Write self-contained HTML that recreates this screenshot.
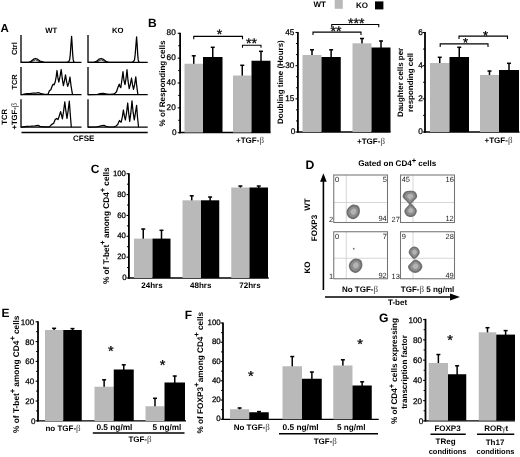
<!DOCTYPE html>
<html lang="en"><head><meta charset="utf-8"><title>Figure</title>
<style>
html,body{margin:0;padding:0;background:#fff;}
svg{display:block;font-family:"Liberation Sans",sans-serif;text-rendering:geometricPrecision;}
</style></head>
<body>
<svg width="520" height="457" viewBox="0 0 520 457">
<rect width="520" height="457" fill="#fff"/>
<text x="0.4" y="32.1" font-size="11.5" font-weight="bold" text-anchor="start" fill="#000">A</text>
<text x="51.2" y="32.7" font-size="7.7" font-weight="bold" text-anchor="middle" fill="#000">WT</text>
<text x="117.8" y="32.7" font-size="7.7" font-weight="bold" text-anchor="middle" fill="#000">KO</text>
<text x="14.9" y="48.6" font-size="7.5" font-weight="bold" text-anchor="middle" fill="#000" transform="rotate(-90 14.9 48.6)" dominant-baseline="middle">Ctrl</text>
<text x="15.2" y="82.0" font-size="7.4" font-weight="bold" text-anchor="middle" fill="#000" transform="rotate(-90 15.2 82.0)" dominant-baseline="middle">TCR</text>
<text x="5.4" y="116.8" font-size="7.7" font-weight="bold" text-anchor="middle" fill="#000" transform="rotate(-90 5.4 116.8)" dominant-baseline="middle">TCR</text>
<text x="14.6" y="116.2" font-size="7.7" font-weight="bold" text-anchor="middle" fill="#000" transform="rotate(-90 14.6 116.2)" dominant-baseline="middle">+TGF-<tspan font-family="Liberation Serif, serif" font-weight="normal" font-size="1.12em" fill="#444">β</tspan></text>
<text x="83.7" y="141.4" font-size="8" font-weight="bold" text-anchor="middle" fill="#000">CFSE</text>
<line x1="21.5" y1="132.5" x2="147.7" y2="132.5" stroke="#000" stroke-width="1.3"/>
<polyline points="21,35 21,62.4 81.5,62.4" fill="none" stroke="#000" stroke-width="1.3"/>
<polyline points="21.0,62.4 29.0,62.4 31.0,61.2 33.5,59.2 35.4,58.5 37.5,59.2 40.0,61.0 44.6,62.4 66.8,62.4 68.6,61.7 69.6,59.9 70.3,54.4 70.9,45.4 71.6,36.4 72.2,45.4 72.7,54.4 73.2,59.9 73.8,61.8 74.5,62.4" fill="none" stroke="#000" stroke-width="1.25" stroke-linejoin="round"/>
<polyline points="29.5,62.4 32.0,61.4 35.4,59.8 39.0,61.4 43.0,62.4" fill="none" stroke="#000" stroke-width="0.8" stroke-linejoin="round"/>
<polyline points="88,35 88,62.4 147.7,62.4" fill="none" stroke="#000" stroke-width="1.3"/>
<polyline points="88.0,62.4 93.8,62.4 96.5,61.2 99.0,59.2 101.2,58.5 103.5,59.4 106.0,61.2 108.5,62.4 131.6,62.4 133.4,61.7 134.5,59.9 135.2,54.4 135.9,45.4 136.6,36.9 137.2,45.4 137.7,54.4 138.2,59.9 138.8,61.8 139.5,62.4" fill="none" stroke="#000" stroke-width="1.25" stroke-linejoin="round"/>
<polyline points="95.0,62.4 98.0,61.4 101.2,59.8 104.5,61.4 107.5,62.4" fill="none" stroke="#000" stroke-width="0.8" stroke-linejoin="round"/>
<polyline points="21,67 21,94.7 81.5,94.7" fill="none" stroke="#000" stroke-width="1.3"/>
<polyline points="21.0,94.7 23.0,94.4 27.0,93.5 30.0,93.7 33.0,93.0 36.0,93.2 39.0,92.7 41.0,93.7 44.6,94.4 47.9,94.4 49.4,90.7 50.8,89.7 52.3,85.7 53.3,84.2 54.1,84.9 55.2,82.0 56.2,76.7 57.0,70.5 57.9,77.7 58.8,82.0 60.0,76.7 61.2,69.5 62.3,78.7 63.4,85.6 64.5,80.7 65.5,74.8 66.6,81.7 67.7,86.4 68.9,82.7 70.0,77.0 71.0,85.6 72.5,94.7" fill="none" stroke="#000" stroke-width="1.25" stroke-linejoin="round"/>
<polyline points="88,67 88,94.7 147.7,94.7" fill="none" stroke="#000" stroke-width="1.3"/>
<polyline points="88.0,94.7 97.0,94.5 100.0,93.7 103.0,93.3 106.0,93.9 109.0,94.4 113.0,94.2 115.0,93.2 116.5,91.7 117.8,87.7 119.2,84.2 120.0,86.7 120.8,87.7 121.8,80.7 123.0,71.7 124.0,80.7 125.0,84.7 126.0,78.7 127.0,69.7 128.0,80.7 129.2,88.7 130.3,84.7 131.5,78.0 132.5,84.7 133.5,89.4 134.6,84.7 135.8,76.9 136.7,85.7 137.9,94.7" fill="none" stroke="#000" stroke-width="1.25" stroke-linejoin="round"/>
<polyline points="21,99.2 21,127.2 81.5,127.2" fill="none" stroke="#000" stroke-width="1.3"/>
<polyline points="21.0,127.2 23.0,126.9 27.0,126.4 31.0,126.2 35.0,125.8 38.0,125.4 40.0,126.4 44.0,126.9 49.4,126.9 51.5,124.6 53.7,123.2 55.2,119.6 56.6,118.5 58.0,119.6 59.0,116.7 60.6,111.6 61.5,115.2 62.4,118.8 63.6,111.2 64.8,101.8 65.9,111.2 67.0,118.5 68.2,110.2 69.3,101.2 70.3,114.5 71.3,127.2" fill="none" stroke="#000" stroke-width="1.25" stroke-linejoin="round"/>
<polyline points="88,99.2 88,127.2 147.7,127.2" fill="none" stroke="#000" stroke-width="1.3"/>
<polyline points="88.0,127.2 96.0,127.0 99.0,126.4 102.0,125.6 104.0,125.4 106.0,126.4 109.0,127.0 114.0,126.9 116.0,126.0 117.7,124.6 118.6,122.2 119.5,120.5 120.3,121.7 121.2,122.2 122.3,117.2 123.4,110.0 124.4,116.2 125.4,120.0 126.5,113.2 127.7,103.0 128.7,113.2 129.7,121.5 130.8,113.2 132.0,100.8 133.1,112.2 134.3,120.0 135.4,113.2 136.6,105.4 137.5,117.2 138.6,127.2" fill="none" stroke="#000" stroke-width="1.25" stroke-linejoin="round"/>
<text x="147.9" y="27" font-size="12" font-weight="bold" text-anchor="start" fill="#000">B</text>
<line x1="180.1" y1="32.7" x2="180.1" y2="133.15" stroke="#000" stroke-width="1.8"/>
<line x1="179.2" y1="132.5" x2="270.5" y2="132.5" stroke="#000" stroke-width="1.3"/>
<line x1="177.7" y1="132.7" x2="180.1" y2="132.7" stroke="#000" stroke-width="1.1"/>
<text x="176.6" y="134.74999999999997" font-size="8.2" font-weight="normal" text-anchor="end" fill="#000" stroke="#000" stroke-width="0.25">0</text>
<line x1="177.7" y1="107.85" x2="180.1" y2="107.85" stroke="#000" stroke-width="1.1"/>
<text x="175.7" y="109.89999999999999" font-size="8.2" font-weight="normal" text-anchor="end" fill="#000" stroke="#000" stroke-width="0.25">20</text>
<line x1="177.7" y1="82.99999999999999" x2="180.1" y2="82.99999999999999" stroke="#000" stroke-width="1.1"/>
<text x="175.7" y="85.04999999999998" font-size="8.2" font-weight="normal" text-anchor="end" fill="#000" stroke="#000" stroke-width="0.25">40</text>
<line x1="177.7" y1="58.14999999999998" x2="180.1" y2="58.14999999999998" stroke="#000" stroke-width="1.1"/>
<text x="175.7" y="60.19999999999998" font-size="8.2" font-weight="normal" text-anchor="end" fill="#000" stroke="#000" stroke-width="0.25">60</text>
<line x1="177.7" y1="33.29999999999998" x2="180.1" y2="33.29999999999998" stroke="#000" stroke-width="1.1"/>
<text x="175.7" y="35.34999999999999" font-size="8.2" font-weight="normal" text-anchor="end" fill="#000" stroke="#000" stroke-width="0.25">80</text>
<line x1="178.2" y1="120.27499999999999" x2="180.1" y2="120.27499999999999" stroke="#000" stroke-width="1.0"/>
<line x1="178.2" y1="95.42499999999998" x2="180.1" y2="95.42499999999998" stroke="#000" stroke-width="1.0"/>
<line x1="178.2" y1="70.57499999999999" x2="180.1" y2="70.57499999999999" stroke="#000" stroke-width="1.0"/>
<line x1="178.2" y1="45.72499999999998" x2="180.1" y2="45.72499999999998" stroke="#000" stroke-width="1.0"/>
<line x1="193.75" y1="55.5" x2="193.75" y2="64.75" stroke="#000" stroke-width="1.5"/>
<line x1="191.75" y1="55.8" x2="195.75" y2="55.8" stroke="#000" stroke-width="1.5"/>
<rect x="184.50" y="63.75" width="18.50" height="68.75" fill="#b9b9b9"/>
<line x1="212.75" y1="47" x2="212.75" y2="58" stroke="#000" stroke-width="1.5"/>
<line x1="210.75" y1="47.3" x2="214.75" y2="47.3" stroke="#000" stroke-width="1.5"/>
<rect x="203.00" y="57.00" width="19.50" height="75.50" fill="#000"/>
<line x1="242.25" y1="65" x2="242.25" y2="76.5" stroke="#000" stroke-width="1.5"/>
<line x1="240.25" y1="65.3" x2="244.25" y2="65.3" stroke="#000" stroke-width="1.5"/>
<rect x="233.00" y="75.50" width="18.50" height="57.00" fill="#b9b9b9"/>
<line x1="261.0" y1="51" x2="261.0" y2="61.75" stroke="#000" stroke-width="1.5"/>
<line x1="259.0" y1="51.3" x2="263.0" y2="51.3" stroke="#000" stroke-width="1.5"/>
<rect x="251.50" y="60.75" width="19.00" height="71.75" fill="#000"/>
<polyline points="193.75,39.199999999999996 193.75,36.4 242.5,36.4 242.5,39.199999999999996" fill="none" stroke="#000" stroke-width="1.1"/>
<polyline points="242.5,47.8 242.5,45.3 261,45.3 261,47.8" fill="none" stroke="#000" stroke-width="1.1"/>
<text x="219.6" y="39.0" font-size="14" font-weight="normal" text-anchor="middle" fill="#000" stroke="#000" stroke-width="0.3">*</text>
<text x="251.5" y="47.5" font-size="14" font-weight="normal" text-anchor="middle" fill="#000" stroke="#000" stroke-width="0.3">**</text>
<text x="164.6" y="83.55" font-size="8" font-weight="bold" text-anchor="middle" textLength="85.9" lengthAdjust="spacingAndGlyphs" transform="rotate(-90 164.6 83.55)">% of Responding cells</text>
<text x="250" y="143.3" font-size="8" font-weight="bold" text-anchor="middle" fill="#000">+TGF-<tspan font-family="Liberation Serif, serif" font-weight="normal" font-size="1.12em" fill="#444">β</tspan></text>
<line x1="297.9" y1="32.0" x2="297.9" y2="132.65" stroke="#000" stroke-width="1.8"/>
<line x1="297.0" y1="132" x2="390.5" y2="132" stroke="#000" stroke-width="1.3"/>
<line x1="295.5" y1="132.0" x2="297.9" y2="132.0" stroke="#000" stroke-width="1.1"/>
<text x="295.2" y="134.35" font-size="8.2" font-weight="normal" text-anchor="end" fill="#000" stroke="#000" stroke-width="0.25">0</text>
<line x1="295.5" y1="98.83" x2="297.9" y2="98.83" stroke="#000" stroke-width="1.1"/>
<text x="294.3" y="101.18" font-size="8.2" font-weight="normal" text-anchor="end" fill="#000" stroke="#000" stroke-width="0.25">15</text>
<line x1="295.5" y1="65.66" x2="297.9" y2="65.66" stroke="#000" stroke-width="1.1"/>
<text x="294.3" y="68.01" font-size="8.2" font-weight="normal" text-anchor="end" fill="#000" stroke="#000" stroke-width="0.25">30</text>
<line x1="295.5" y1="32.489999999999995" x2="297.9" y2="32.489999999999995" stroke="#000" stroke-width="1.1"/>
<text x="294.3" y="34.839999999999996" font-size="8.2" font-weight="normal" text-anchor="end" fill="#000" stroke="#000" stroke-width="0.25">45</text>
<line x1="296.0" y1="120.94333333333333" x2="297.9" y2="120.94333333333333" stroke="#000" stroke-width="1.0"/>
<line x1="296.0" y1="109.88666666666667" x2="297.9" y2="109.88666666666667" stroke="#000" stroke-width="1.0"/>
<line x1="296.0" y1="87.77333333333334" x2="297.9" y2="87.77333333333334" stroke="#000" stroke-width="1.0"/>
<line x1="296.0" y1="76.71666666666667" x2="297.9" y2="76.71666666666667" stroke="#000" stroke-width="1.0"/>
<line x1="296.0" y1="54.603333333333325" x2="297.9" y2="54.603333333333325" stroke="#000" stroke-width="1.0"/>
<line x1="296.0" y1="43.54666666666667" x2="297.9" y2="43.54666666666667" stroke="#000" stroke-width="1.0"/>
<line x1="312.0" y1="49.5" x2="312.0" y2="56" stroke="#000" stroke-width="1.5"/>
<line x1="310.0" y1="49.8" x2="314.0" y2="49.8" stroke="#000" stroke-width="1.5"/>
<rect x="302.50" y="55.00" width="19.00" height="77.00" fill="#b9b9b9"/>
<line x1="331.125" y1="49.5" x2="331.125" y2="58" stroke="#000" stroke-width="1.5"/>
<line x1="329.125" y1="49.8" x2="333.125" y2="49.8" stroke="#000" stroke-width="1.5"/>
<rect x="321.50" y="57.00" width="19.25" height="75.00" fill="#000"/>
<line x1="362.0" y1="38.2" x2="362.0" y2="44.3" stroke="#000" stroke-width="1.5"/>
<line x1="360.0" y1="38.5" x2="364.0" y2="38.5" stroke="#000" stroke-width="1.5"/>
<rect x="352.50" y="43.30" width="19.00" height="88.70" fill="#b9b9b9"/>
<line x1="381.0" y1="40.7" x2="381.0" y2="48.5" stroke="#000" stroke-width="1.5"/>
<line x1="379.0" y1="41.0" x2="383.0" y2="41.0" stroke="#000" stroke-width="1.5"/>
<rect x="371.50" y="47.50" width="19.00" height="84.50" fill="#000"/>
<polyline points="313,35.0 313,32.1 361,32.1 361,35.0" fill="none" stroke="#000" stroke-width="1.1"/>
<polyline points="331.75,27.2 331.75,24.5 378.75,24.5 378.75,27.2" fill="none" stroke="#000" stroke-width="1.1"/>
<text x="336" y="35.7" font-size="14" font-weight="normal" text-anchor="middle" fill="#000" stroke="#000" stroke-width="0.3">**</text>
<text x="356.3" y="28.0" font-size="14" font-weight="normal" text-anchor="middle" fill="#000" stroke="#000" stroke-width="0.3">***</text>
<text x="283" y="82.05" font-size="7.9" font-weight="bold" text-anchor="middle" textLength="83.7" lengthAdjust="spacingAndGlyphs" transform="rotate(-90 283 82.05)">Doubling time (Hours)</text>
<text x="371" y="143.7" font-size="8" font-weight="bold" text-anchor="middle" fill="#000">+TGF-<tspan font-family="Liberation Serif, serif" font-weight="normal" font-size="1.12em" fill="#444">β</tspan></text>
<text x="319.6" y="6.6" font-size="8" font-weight="bold" text-anchor="middle" fill="#000">WT</text>
<rect x="334.70" y="0.00" width="8.10" height="8.80" fill="#b9b9b9"/>
<text x="362" y="8.2" font-size="8" font-weight="bold" text-anchor="middle" fill="#000">KO</text>
<rect x="375.00" y="1.40" width="8.40" height="8.00" fill="#000"/>
<line x1="425.0" y1="32.0" x2="425.0" y2="132.65" stroke="#000" stroke-width="1.8"/>
<line x1="424.1" y1="132" x2="519.5" y2="132" stroke="#000" stroke-width="1.3"/>
<line x1="422.6" y1="132.0" x2="425.0" y2="132.0" stroke="#000" stroke-width="1.1"/>
<text x="422.70000000000005" y="134.35" font-size="8.2" font-weight="normal" text-anchor="end" fill="#000" stroke="#000" stroke-width="0.25">0</text>
<line x1="422.6" y1="98.83" x2="425.0" y2="98.83" stroke="#000" stroke-width="1.1"/>
<text x="422.70000000000005" y="101.18" font-size="8.2" font-weight="normal" text-anchor="end" fill="#000" stroke="#000" stroke-width="0.25">2</text>
<line x1="422.6" y1="65.66" x2="425.0" y2="65.66" stroke="#000" stroke-width="1.1"/>
<text x="422.70000000000005" y="68.01" font-size="8.2" font-weight="normal" text-anchor="end" fill="#000" stroke="#000" stroke-width="0.25">4</text>
<line x1="422.6" y1="32.489999999999995" x2="425.0" y2="32.489999999999995" stroke="#000" stroke-width="1.1"/>
<text x="422.70000000000005" y="34.839999999999996" font-size="8.2" font-weight="normal" text-anchor="end" fill="#000" stroke="#000" stroke-width="0.25">6</text>
<line x1="423.1" y1="115.41499999999999" x2="425.0" y2="115.41499999999999" stroke="#000" stroke-width="1.0"/>
<line x1="423.1" y1="82.245" x2="425.0" y2="82.245" stroke="#000" stroke-width="1.0"/>
<line x1="423.1" y1="49.07499999999999" x2="425.0" y2="49.07499999999999" stroke="#000" stroke-width="1.0"/>
<line x1="439.75" y1="57" x2="439.75" y2="64" stroke="#000" stroke-width="1.5"/>
<line x1="437.75" y1="57.3" x2="441.75" y2="57.3" stroke="#000" stroke-width="1.5"/>
<rect x="430.00" y="63.00" width="19.50" height="69.00" fill="#b9b9b9"/>
<line x1="459.25" y1="47" x2="459.25" y2="58" stroke="#000" stroke-width="1.5"/>
<line x1="457.25" y1="47.3" x2="461.25" y2="47.3" stroke="#000" stroke-width="1.5"/>
<rect x="449.50" y="57.00" width="19.50" height="75.00" fill="#000"/>
<line x1="489.5" y1="70.75" x2="489.5" y2="76" stroke="#000" stroke-width="1.5"/>
<line x1="487.5" y1="71.05" x2="491.5" y2="71.05" stroke="#000" stroke-width="1.5"/>
<rect x="480.00" y="75.00" width="19.00" height="57.00" fill="#b9b9b9"/>
<line x1="509.0" y1="63" x2="509.0" y2="71" stroke="#000" stroke-width="1.5"/>
<line x1="507.0" y1="63.3" x2="511.0" y2="63.3" stroke="#000" stroke-width="1.5"/>
<rect x="499.00" y="70.00" width="20.00" height="62.00" fill="#000"/>
<polyline points="440.2,46.9 440.2,43.9 488,43.9 488,46.9" fill="none" stroke="#000" stroke-width="1.1"/>
<polyline points="459,39.0 459,36.1 507.5,36.1 507.5,39.0" fill="none" stroke="#000" stroke-width="1.1"/>
<text x="465.6" y="46.900000000000006" font-size="13" font-weight="normal" text-anchor="middle" fill="#000" stroke="#000" stroke-width="0.3">*</text>
<text x="485.5" y="39.7" font-size="13" font-weight="normal" text-anchor="middle" fill="#000" stroke="#000" stroke-width="0.3">*</text>
<text x="402.9" y="82.45" font-size="7.9" font-weight="bold" text-anchor="middle" textLength="69.3" lengthAdjust="spacingAndGlyphs" transform="rotate(-90 402.9 82.45)">Daughter cells per</text>
<text x="412.6" y="82.40" font-size="7.9" font-weight="bold" text-anchor="middle" textLength="59.0" lengthAdjust="spacingAndGlyphs" transform="rotate(-90 412.6 82.40)">responding cell</text>
<text x="498.5" y="143.3" font-size="8" font-weight="bold" text-anchor="middle" fill="#000">+TGF-<tspan font-family="Liberation Serif, serif" font-weight="normal" font-size="1.12em" fill="#444">β</tspan></text>
<text x="90.8" y="173.4" font-size="12" font-weight="bold" text-anchor="start" fill="#000">C</text>
<line x1="128.9" y1="173.25" x2="128.9" y2="278.65" stroke="#000" stroke-width="1.8"/>
<line x1="128.0" y1="278" x2="268.75" y2="278" stroke="#000" stroke-width="1.3"/>
<line x1="126.5" y1="278.0" x2="128.9" y2="278.0" stroke="#000" stroke-width="1.1"/>
<text x="126.49999999999999" y="280.05" font-size="7.8" font-weight="normal" text-anchor="end" fill="#000" stroke="#000" stroke-width="0.25">0</text>
<line x1="126.5" y1="257.15" x2="128.9" y2="257.15" stroke="#000" stroke-width="1.1"/>
<text x="125.89999999999999" y="259.2" font-size="7.8" font-weight="normal" text-anchor="end" fill="#000" stroke="#000" stroke-width="0.25">20</text>
<line x1="126.5" y1="236.3" x2="128.9" y2="236.3" stroke="#000" stroke-width="1.1"/>
<text x="125.89999999999999" y="238.35" font-size="7.8" font-weight="normal" text-anchor="end" fill="#000" stroke="#000" stroke-width="0.25">40</text>
<line x1="126.5" y1="215.45" x2="128.9" y2="215.45" stroke="#000" stroke-width="1.1"/>
<text x="125.89999999999999" y="217.49999999999997" font-size="7.8" font-weight="normal" text-anchor="end" fill="#000" stroke="#000" stroke-width="0.25">60</text>
<line x1="126.5" y1="194.6" x2="128.9" y2="194.6" stroke="#000" stroke-width="1.1"/>
<text x="125.89999999999999" y="196.64999999999998" font-size="7.8" font-weight="normal" text-anchor="end" fill="#000" stroke="#000" stroke-width="0.25">80</text>
<line x1="126.5" y1="173.75" x2="128.9" y2="173.75" stroke="#000" stroke-width="1.1"/>
<text x="125.89999999999999" y="175.79999999999998" font-size="7.8" font-weight="normal" text-anchor="end" fill="#000" stroke="#000" stroke-width="0.25">100</text>
<line x1="127.0" y1="267.575" x2="128.9" y2="267.575" stroke="#000" stroke-width="1.0"/>
<line x1="127.0" y1="246.725" x2="128.9" y2="246.725" stroke="#000" stroke-width="1.0"/>
<line x1="127.0" y1="225.875" x2="128.9" y2="225.875" stroke="#000" stroke-width="1.0"/>
<line x1="127.0" y1="205.025" x2="128.9" y2="205.025" stroke="#000" stroke-width="1.0"/>
<line x1="127.0" y1="184.175" x2="128.9" y2="184.175" stroke="#000" stroke-width="1.0"/>
<line x1="143.25" y1="228.75" x2="143.25" y2="239.6" stroke="#000" stroke-width="1.5"/>
<line x1="141.25" y1="229.05" x2="145.25" y2="229.05" stroke="#000" stroke-width="1.5"/>
<rect x="134.00" y="238.60" width="18.50" height="39.40" fill="#b9b9b9"/>
<line x1="161.5" y1="230" x2="161.5" y2="239.6" stroke="#000" stroke-width="1.5"/>
<line x1="159.5" y1="230.3" x2="163.5" y2="230.3" stroke="#000" stroke-width="1.5"/>
<rect x="152.50" y="238.60" width="18.00" height="39.40" fill="#000"/>
<line x1="191.75" y1="195.5" x2="191.75" y2="201.3" stroke="#000" stroke-width="1.5"/>
<line x1="189.75" y1="195.8" x2="193.75" y2="195.8" stroke="#000" stroke-width="1.5"/>
<rect x="182.50" y="200.30" width="18.50" height="77.70" fill="#b9b9b9"/>
<line x1="210.125" y1="196.75" x2="210.125" y2="201.3" stroke="#000" stroke-width="1.5"/>
<line x1="208.125" y1="197.05" x2="212.125" y2="197.05" stroke="#000" stroke-width="1.5"/>
<rect x="201.00" y="200.30" width="18.25" height="77.70" fill="#000"/>
<line x1="240.375" y1="185.75" x2="240.375" y2="188.5" stroke="#000" stroke-width="1.5"/>
<line x1="238.375" y1="186.05" x2="242.375" y2="186.05" stroke="#000" stroke-width="1.5"/>
<rect x="231.25" y="187.50" width="18.25" height="90.50" fill="#b9b9b9"/>
<line x1="258.75" y1="185.75" x2="258.75" y2="188.5" stroke="#000" stroke-width="1.5"/>
<line x1="256.75" y1="186.05" x2="260.75" y2="186.05" stroke="#000" stroke-width="1.5"/>
<rect x="249.50" y="187.50" width="18.50" height="90.50" fill="#000"/>
<text x="152" y="287.8" font-size="8" font-weight="bold" text-anchor="middle" fill="#000">24hrs</text>
<text x="200.75" y="287.8" font-size="8" font-weight="bold" text-anchor="middle" fill="#000">48hrs</text>
<text x="250" y="287.8" font-size="8" font-weight="bold" text-anchor="middle" fill="#000">72hrs</text>
<text x="109.2" y="225.70" font-size="8.3" font-weight="bold" text-anchor="middle" textLength="116.8" lengthAdjust="spacingAndGlyphs" transform="rotate(-90 109.2 225.70)">% of T-bet<tspan dy="-3.8" font-size="7.6">+</tspan><tspan dy="3.8" font-size="7.5"> </tspan>among CD4<tspan dy="-3.8" font-size="7.6">+</tspan><tspan dy="3.8" font-size="7.5"> </tspan>cells</text>
<text x="305.6" y="168.8" font-size="12.2" font-weight="bold" text-anchor="start" fill="#000">D</text>
<text x="397.3" y="166.3" font-size="8.1" font-weight="bold" text-anchor="middle" fill="#000">Gated on CD4<tspan dy="-3.8" font-size="7.6">+</tspan><tspan dy="3.8" font-size="7.5"> </tspan>cells</text>
<line x1="323.4" y1="180" x2="323.4" y2="290" stroke="#000" stroke-width="1.6"/>
<polygon points="323.4,173.3 320.1,181.8 326.7,181.8" fill="#000"/>
<line x1="325" y1="297" x2="451" y2="297" stroke="#000" stroke-width="1.45"/>
<polygon points="460,297 450,293.4 450,300.6" fill="#000"/>
<text x="308" y="204.5" font-size="8" font-weight="bold" text-anchor="middle" fill="#000" transform="rotate(-90 308 204.5)" dominant-baseline="middle">WT</text>
<text x="315" y="228" font-size="8" font-weight="bold" text-anchor="middle" fill="#000" transform="rotate(-90 315 228)" dominant-baseline="middle">FOXP3</text>
<text x="307.5" y="267.5" font-size="8" font-weight="bold" text-anchor="middle" fill="#000" transform="rotate(-90 307.5 267.5)" dominant-baseline="middle">KO</text>
<text x="397.5" y="305.4" font-size="8" font-weight="bold" text-anchor="middle" fill="#000">T-bet</text>
<text x="360" y="291.5" font-size="8" font-weight="bold" text-anchor="middle" fill="#000">No TGF-<tspan font-family="Liberation Serif, serif" font-weight="normal" font-size="1.12em" fill="#444">β</tspan></text>
<text x="427.5" y="291.5" font-size="8" font-weight="bold" text-anchor="middle" fill="#000">TGF-<tspan font-family="Liberation Serif, serif" font-weight="normal" font-size="1.12em" fill="#444">β</tspan> 5 ng/ml</text>
<rect x="333.75" y="175" width="53.75" height="47.5" fill="#fff"/>
<line x1="346.25" y1="175" x2="346.25" y2="222.5" stroke="#c4c4c4" stroke-width="0.7"/>
<line x1="333.75" y1="202.5" x2="387.5" y2="202.5" stroke="#c4c4c4" stroke-width="0.7"/>
<rect x="333.75" y="175" width="53.75" height="47.5" fill="none" stroke="#747474" stroke-width="1.05"/>
<text x="334.95" y="182.3" font-size="7.5" font-weight="normal" text-anchor="start" fill="#222">0</text>
<text x="386.9" y="182.3" font-size="7.5" font-weight="normal" text-anchor="end" fill="#222">5</text>
<text x="333.15" y="222.3" font-size="7.5" font-weight="normal" text-anchor="end" fill="#222">2</text>
<text x="386.8" y="221.3" font-size="7.5" font-weight="normal" text-anchor="end" fill="#222">94</text>
<path d="M359.90,211.80C359.78,213.47 359.07,215.23 357.97,216.47C356.87,217.70 354.93,219.13 353.30,219.20C351.67,219.27 349.34,218.12 348.21,216.89C347.08,215.66 346.41,213.40 346.50,211.80C346.59,210.20 347.64,208.47 348.77,207.27C349.91,206.07 351.65,204.74 353.30,204.60C354.95,204.46 357.57,205.23 358.67,206.43C359.77,207.63 360.02,210.13 359.90,211.80Z" fill="#707070"/>
<path d="M358.18,211.80C358.10,213.04 357.57,214.34 356.75,215.25C355.94,216.17 354.50,217.22 353.30,217.28C352.10,217.33 350.37,216.48 349.53,215.57C348.69,214.65 348.20,212.99 348.27,211.80C348.34,210.61 349.11,209.34 349.95,208.45C350.79,207.56 352.08,206.58 353.30,206.47C354.52,206.37 356.46,206.94 357.28,207.82C358.09,208.71 358.27,210.56 358.18,211.80Z" fill="#8e8e8e"/>
<path d="M356.27,211.60C356.22,212.30 355.92,213.04 355.46,213.56C355.00,214.08 354.18,214.68 353.50,214.71C352.82,214.74 351.84,214.26 351.36,213.74C350.89,213.22 350.60,212.27 350.64,211.60C350.68,210.93 351.12,210.20 351.60,209.70C352.08,209.20 352.81,208.64 353.50,208.58C354.19,208.52 355.30,208.84 355.76,209.34C356.22,209.85 356.32,210.90 356.27,211.60Z" fill="#b4b4b4"/>
<rect x="400.5" y="175" width="54.0" height="47.5" fill="#fff"/>
<line x1="413" y1="175" x2="413" y2="222.5" stroke="#c4c4c4" stroke-width="0.7"/>
<line x1="400.5" y1="202.5" x2="454.5" y2="202.5" stroke="#c4c4c4" stroke-width="0.7"/>
<rect x="400.5" y="175" width="54.0" height="47.5" fill="none" stroke="#747474" stroke-width="1.05"/>
<text x="401.7" y="182.3" font-size="7.5" font-weight="normal" text-anchor="start" fill="#222">45</text>
<text x="453.9" y="182.3" font-size="7.5" font-weight="normal" text-anchor="end" fill="#222">16</text>
<text x="399.9" y="222.3" font-size="7.5" font-weight="normal" text-anchor="end" fill="#222">27</text>
<text x="453.8" y="221.3" font-size="7.5" font-weight="normal" text-anchor="end" fill="#222">12</text>
<path d="M417.20,196.80C417.01,198.31 415.16,199.49 413.96,200.76C412.76,202.03 411.32,204.40 410.00,204.40C408.68,204.40 407.27,202.03 406.04,200.76C404.81,199.49 402.76,198.28 402.60,196.80C402.44,195.32 403.82,192.85 405.05,191.85C406.28,190.85 408.33,190.82 410.00,190.80C411.67,190.78 413.89,190.71 415.09,191.71C416.29,192.71 417.39,195.29 417.20,196.80Z" fill="#707070"/>
<path d="M415.33,196.80C415.19,197.92 413.82,198.79 412.93,199.73C412.04,200.67 410.98,202.42 410.00,202.42C409.02,202.42 407.98,200.67 407.07,199.73C406.16,198.79 404.65,197.90 404.52,196.80C404.40,195.70 405.42,193.88 406.34,193.14C407.25,192.40 408.76,192.38 410.00,192.36C411.24,192.34 412.88,192.29 413.77,193.03C414.66,193.77 415.47,195.68 415.33,196.80Z" fill="#8e8e8e"/>
<path d="M413.22,196.60C413.14,197.23 412.37,197.73 411.86,198.26C411.36,198.80 410.75,199.79 410.20,199.79C409.65,199.79 409.05,198.80 408.54,198.26C408.02,197.73 407.16,197.22 407.09,196.60C407.02,195.98 407.60,194.94 408.12,194.52C408.64,194.10 409.50,194.09 410.20,194.08C410.90,194.07 411.83,194.04 412.34,194.46C412.84,194.88 413.30,195.97 413.22,196.60Z" fill="#b4b4b4"/>
<path d="M416.80,210.60C416.92,211.99 416.16,214.06 415.13,215.13C414.09,216.19 412.11,217.00 410.60,217.00C409.09,217.00 407.11,216.19 406.07,215.13C405.04,214.06 404.26,211.97 404.40,210.60C404.54,209.23 405.89,208.06 406.92,206.92C407.96,205.79 409.35,203.82 410.60,203.80C411.85,203.78 413.39,205.65 414.42,206.78C415.45,207.91 416.68,209.21 416.80,210.60Z" fill="#707070"/>
<path d="M415.19,210.60C415.28,211.63 414.71,213.16 413.95,213.95C413.18,214.74 411.72,215.34 410.60,215.34C409.48,215.34 408.02,214.74 407.25,213.95C406.49,213.16 405.91,211.61 406.01,210.60C406.12,209.59 407.11,208.72 407.88,207.88C408.64,207.04 409.68,205.59 410.60,205.57C411.52,205.55 412.66,206.94 413.43,207.77C414.19,208.61 415.10,209.57 415.19,210.60Z" fill="#8e8e8e"/>
<path d="M413.40,210.40C413.45,210.98 413.13,211.85 412.70,212.30C412.27,212.75 411.43,213.09 410.80,213.09C410.17,213.09 409.33,212.75 408.90,212.30C408.47,211.85 408.14,210.97 408.20,210.40C408.26,209.83 408.82,209.33 409.26,208.86C409.69,208.38 410.28,207.55 410.80,207.54C411.32,207.53 411.97,208.32 412.40,208.80C412.84,209.27 413.35,209.82 413.40,210.40Z" fill="#b4b4b4"/>
<rect x="333.75" y="231.75" width="53.75" height="47.0" fill="#fff"/>
<line x1="346.25" y1="231.75" x2="346.25" y2="278.75" stroke="#c4c4c4" stroke-width="0.7"/>
<line x1="333.75" y1="258.25" x2="387.5" y2="258.25" stroke="#c4c4c4" stroke-width="0.7"/>
<rect x="333.75" y="231.75" width="53.75" height="47.0" fill="none" stroke="#747474" stroke-width="1.05"/>
<text x="334.95" y="239.05" font-size="7.5" font-weight="normal" text-anchor="start" fill="#222">0</text>
<text x="386.9" y="239.05" font-size="7.5" font-weight="normal" text-anchor="end" fill="#222">7</text>
<text x="333.15" y="278.55" font-size="7.5" font-weight="normal" text-anchor="end" fill="#222">1</text>
<text x="386.8" y="277.55" font-size="7.5" font-weight="normal" text-anchor="end" fill="#222">92</text>
<path d="M362.40,265.60C362.28,267.27 361.40,269.03 360.27,270.27C359.13,271.50 357.20,272.95 355.60,273.00C354.00,273.05 351.78,271.78 350.65,270.55C349.52,269.32 348.75,267.20 348.80,265.60C348.85,264.00 349.80,262.13 350.93,260.93C352.07,259.73 353.93,258.52 355.60,258.40C357.27,258.28 359.84,259.03 360.97,260.23C362.11,261.43 362.52,263.93 362.40,265.60Z" fill="#707070"/>
<path d="M360.63,265.60C360.54,266.84 359.89,268.14 359.05,269.05C358.21,269.97 356.79,271.04 355.60,271.08C354.41,271.11 352.78,270.18 351.94,269.26C351.10,268.35 350.53,266.79 350.57,265.60C350.60,264.41 351.31,263.03 352.15,262.15C352.99,261.26 354.36,260.36 355.60,260.27C356.84,260.18 358.74,260.74 359.58,261.62C360.42,262.51 360.72,264.36 360.63,265.60Z" fill="#8e8e8e"/>
<path d="M358.66,265.40C358.61,266.10 358.24,266.84 357.76,267.36C357.28,267.88 356.47,268.49 355.80,268.51C355.13,268.53 354.20,268.00 353.72,267.48C353.25,266.96 352.92,266.07 352.94,265.40C352.96,264.73 353.36,263.94 353.84,263.44C354.32,262.94 355.10,262.43 355.80,262.38C356.50,262.33 357.58,262.64 358.06,263.14C358.53,263.65 358.71,264.70 358.66,265.40Z" fill="#b4b4b4"/>
<circle cx="353.75" cy="248.75" r="0.9" fill="#777"/>
<rect x="400.5" y="231.75" width="54.0" height="47.0" fill="#fff"/>
<line x1="413" y1="231.75" x2="413" y2="278.75" stroke="#c4c4c4" stroke-width="0.7"/>
<line x1="400.5" y1="258.25" x2="454.5" y2="258.25" stroke="#c4c4c4" stroke-width="0.7"/>
<rect x="400.5" y="231.75" width="54.0" height="47.0" fill="none" stroke="#747474" stroke-width="1.05"/>
<text x="401.7" y="239.05" font-size="7.5" font-weight="normal" text-anchor="start" fill="#222">9</text>
<text x="453.9" y="239.05" font-size="7.5" font-weight="normal" text-anchor="end" fill="#222">28</text>
<text x="399.9" y="278.55" font-size="7.5" font-weight="normal" text-anchor="end" fill="#222">13</text>
<text x="453.8" y="277.55" font-size="7.5" font-weight="normal" text-anchor="end" fill="#222">49</text>
<path d="M419.70,252.40C419.65,253.67 418.88,254.98 417.98,256.08C417.08,257.18 415.50,259.02 414.30,259.00C413.10,258.98 411.70,257.04 410.76,255.94C409.83,254.84 408.77,253.65 408.70,252.40C408.63,251.15 409.41,249.41 410.34,248.44C411.27,247.47 412.98,246.60 414.30,246.60C415.62,246.60 417.36,247.47 418.26,248.44C419.16,249.41 419.75,251.13 419.70,252.40Z" fill="#707070"/>
<path d="M418.30,252.40C418.26,253.34 417.69,254.31 417.02,255.12C416.35,255.93 415.19,257.30 414.30,257.28C413.41,257.27 412.37,255.83 411.68,255.02C410.99,254.20 410.21,253.32 410.16,252.40C410.10,251.48 410.68,250.19 411.37,249.47C412.06,248.75 413.32,248.11 414.30,248.11C415.28,248.11 416.56,248.75 417.23,249.47C417.90,250.19 418.33,251.46 418.30,252.40Z" fill="#8e8e8e"/>
<path d="M416.77,252.20C416.75,252.73 416.42,253.28 416.04,253.74C415.67,254.21 415.00,254.98 414.50,254.97C414.00,254.96 413.41,254.15 413.02,253.68C412.62,253.22 412.18,252.72 412.15,252.20C412.12,251.68 412.44,250.94 412.84,250.54C413.23,250.13 413.95,249.76 414.50,249.76C415.05,249.76 415.79,250.13 416.16,250.54C416.54,250.94 416.79,251.67 416.77,252.20Z" fill="#b4b4b4"/>
<path d="M422.40,266.40C422.40,267.96 421.07,269.97 419.87,271.07C418.67,272.17 416.76,273.00 415.20,273.00C413.64,273.00 411.73,272.17 410.53,271.07C409.33,269.97 407.88,267.84 408.00,266.40C408.12,264.96 410.04,263.61 411.24,262.44C412.44,261.27 413.76,259.52 415.20,259.40C416.64,259.28 418.67,260.57 419.87,261.73C421.07,262.90 422.40,264.84 422.40,266.40Z" fill="#707070"/>
<path d="M420.53,266.40C420.53,267.55 419.54,269.04 418.65,269.85C417.77,270.67 416.35,271.28 415.20,271.28C414.05,271.28 412.63,270.67 411.75,269.85C410.86,269.04 409.78,267.46 409.87,266.40C409.96,265.34 411.38,264.33 412.27,263.47C413.16,262.61 414.14,261.31 415.20,261.22C416.26,261.13 417.77,262.08 418.65,262.95C419.54,263.81 420.53,265.25 420.53,266.40Z" fill="#8e8e8e"/>
<path d="M418.42,266.20C418.42,266.85 417.86,267.70 417.36,268.16C416.86,268.62 416.05,268.97 415.40,268.97C414.75,268.97 413.94,268.62 413.44,268.16C412.94,267.70 412.33,266.80 412.38,266.20C412.43,265.60 413.23,265.03 413.74,264.54C414.24,264.05 414.80,263.31 415.40,263.26C416.00,263.21 416.86,263.75 417.36,264.24C417.86,264.73 418.42,265.55 418.42,266.20Z" fill="#b4b4b4"/>
<text x="1.6" y="317" font-size="12" font-weight="bold" text-anchor="start" fill="#000">E</text>
<line x1="38" y1="321.3" x2="38" y2="421.54999999999995" stroke="#000" stroke-width="1.8"/>
<line x1="37.1" y1="420.9" x2="186" y2="420.9" stroke="#000" stroke-width="1.3"/>
<line x1="35.6" y1="420.8" x2="38" y2="420.8" stroke="#000" stroke-width="1.1"/>
<text x="35.4" y="423.75" font-size="8.0" font-weight="normal" text-anchor="end" fill="#000" stroke="#000" stroke-width="0.25">0</text>
<line x1="35.6" y1="401.0" x2="38" y2="401.0" stroke="#000" stroke-width="1.1"/>
<text x="34.1" y="403.95" font-size="8.0" font-weight="normal" text-anchor="end" fill="#000" stroke="#000" stroke-width="0.25">20</text>
<line x1="35.6" y1="381.2" x2="38" y2="381.2" stroke="#000" stroke-width="1.1"/>
<text x="34.1" y="384.15" font-size="8.0" font-weight="normal" text-anchor="end" fill="#000" stroke="#000" stroke-width="0.25">40</text>
<line x1="35.6" y1="361.40000000000003" x2="38" y2="361.40000000000003" stroke="#000" stroke-width="1.1"/>
<text x="34.1" y="364.35" font-size="8.0" font-weight="normal" text-anchor="end" fill="#000" stroke="#000" stroke-width="0.25">60</text>
<line x1="35.6" y1="341.6" x2="38" y2="341.6" stroke="#000" stroke-width="1.1"/>
<text x="34.1" y="344.55" font-size="8.0" font-weight="normal" text-anchor="end" fill="#000" stroke="#000" stroke-width="0.25">80</text>
<line x1="35.6" y1="321.8" x2="38" y2="321.8" stroke="#000" stroke-width="1.1"/>
<text x="34.1" y="324.75" font-size="8.0" font-weight="normal" text-anchor="end" fill="#000" stroke="#000" stroke-width="0.25">100</text>
<line x1="36.1" y1="410.90000000000003" x2="38" y2="410.90000000000003" stroke="#000" stroke-width="1.0"/>
<line x1="36.1" y1="391.1" x2="38" y2="391.1" stroke="#000" stroke-width="1.0"/>
<line x1="36.1" y1="371.3" x2="38" y2="371.3" stroke="#000" stroke-width="1.0"/>
<line x1="36.1" y1="351.5" x2="38" y2="351.5" stroke="#000" stroke-width="1.0"/>
<line x1="36.1" y1="331.7" x2="38" y2="331.7" stroke="#000" stroke-width="1.0"/>
<line x1="54.125" y1="328" x2="54.125" y2="331" stroke="#000" stroke-width="1.5"/>
<line x1="52.125" y1="328.3" x2="56.125" y2="328.3" stroke="#000" stroke-width="1.5"/>
<rect x="45.00" y="330.00" width="18.25" height="91.00" fill="#b9b9b9"/>
<line x1="72.5" y1="328.3" x2="72.5" y2="331" stroke="#000" stroke-width="1.5"/>
<line x1="70.5" y1="328.6" x2="74.5" y2="328.6" stroke="#000" stroke-width="1.5"/>
<rect x="63.25" y="330.00" width="18.50" height="91.00" fill="#000"/>
<line x1="104.125" y1="379.5" x2="104.125" y2="387.75" stroke="#000" stroke-width="1.5"/>
<line x1="102.125" y1="379.8" x2="106.125" y2="379.8" stroke="#000" stroke-width="1.5"/>
<rect x="94.50" y="386.75" width="19.25" height="34.25" fill="#b9b9b9"/>
<line x1="123.75" y1="364.5" x2="123.75" y2="370.5" stroke="#000" stroke-width="1.5"/>
<line x1="121.75" y1="364.8" x2="125.75" y2="364.8" stroke="#000" stroke-width="1.5"/>
<rect x="113.75" y="369.50" width="20.00" height="51.50" fill="#000"/>
<line x1="155.0" y1="398" x2="155.0" y2="407.25" stroke="#000" stroke-width="1.5"/>
<line x1="153.0" y1="398.3" x2="157.0" y2="398.3" stroke="#000" stroke-width="1.5"/>
<rect x="145.50" y="406.25" width="19.00" height="14.75" fill="#b9b9b9"/>
<line x1="174.75" y1="375.75" x2="174.75" y2="383.5" stroke="#000" stroke-width="1.5"/>
<line x1="172.75" y1="376.05" x2="176.75" y2="376.05" stroke="#000" stroke-width="1.5"/>
<rect x="164.50" y="382.50" width="20.50" height="38.50" fill="#000"/>
<text x="110.75" y="355.5" font-size="14.5" font-weight="normal" text-anchor="middle" fill="#000" stroke="#000" stroke-width="0.3">*</text>
<text x="162.5" y="370.2" font-size="14.5" font-weight="normal" text-anchor="middle" fill="#000" stroke="#000" stroke-width="0.3">*</text>
<text x="63" y="431" font-size="8" font-weight="bold" text-anchor="middle" fill="#000">no TGF-<tspan font-family="Liberation Serif, serif" font-weight="normal" font-size="1.12em" fill="#444">β</tspan></text>
<text x="114.4" y="430.3" font-size="8.3" font-weight="bold" text-anchor="middle" fill="#000">0.5 ng/ml</text>
<text x="166.9" y="430.3" font-size="8.2" font-weight="bold" text-anchor="middle" fill="#000">5 ng/ml</text>
<line x1="92.8" y1="433" x2="184.5" y2="433" stroke="#000" stroke-width="1.4"/>
<text x="140" y="441.5" font-size="8" font-weight="bold" text-anchor="middle" fill="#000">TGF-<tspan font-family="Liberation Serif, serif" font-weight="normal" font-size="1.12em" fill="#444">β</tspan></text>
<text x="19.3" y="374.20" font-size="8.3" font-weight="bold" text-anchor="middle" textLength="117.4" lengthAdjust="spacingAndGlyphs" transform="rotate(-90 19.3 374.20)">% of T-bet<tspan dy="-3.8" font-size="7.6">+</tspan><tspan dy="3.8" font-size="7.5"> </tspan>among CD4<tspan dy="-3.8" font-size="7.6">+</tspan><tspan dy="3.8" font-size="7.5"> </tspan>cells</text>
<text x="184.8" y="318.5" font-size="12" font-weight="bold" text-anchor="start" fill="#000">F</text>
<line x1="223" y1="322.5" x2="223" y2="419.95" stroke="#000" stroke-width="1.8"/>
<line x1="222.1" y1="419.3" x2="378.75" y2="419.3" stroke="#000" stroke-width="1.3"/>
<line x1="220.6" y1="419.3" x2="223" y2="419.3" stroke="#000" stroke-width="1.1"/>
<text x="220.70000000000002" y="421.45" font-size="7.9" font-weight="normal" text-anchor="end" fill="#000" stroke="#000" stroke-width="0.25">0</text>
<line x1="220.6" y1="400.04" x2="223" y2="400.04" stroke="#000" stroke-width="1.1"/>
<text x="220.70000000000002" y="402.19" font-size="7.9" font-weight="normal" text-anchor="end" fill="#000" stroke="#000" stroke-width="0.25">20</text>
<line x1="220.6" y1="380.78000000000003" x2="223" y2="380.78000000000003" stroke="#000" stroke-width="1.1"/>
<text x="220.70000000000002" y="382.93" font-size="7.9" font-weight="normal" text-anchor="end" fill="#000" stroke="#000" stroke-width="0.25">40</text>
<line x1="220.6" y1="361.52000000000004" x2="223" y2="361.52000000000004" stroke="#000" stroke-width="1.1"/>
<text x="220.70000000000002" y="363.67" font-size="7.9" font-weight="normal" text-anchor="end" fill="#000" stroke="#000" stroke-width="0.25">60</text>
<line x1="220.6" y1="342.26" x2="223" y2="342.26" stroke="#000" stroke-width="1.1"/>
<text x="220.70000000000002" y="344.40999999999997" font-size="7.9" font-weight="normal" text-anchor="end" fill="#000" stroke="#000" stroke-width="0.25">80</text>
<line x1="220.6" y1="323.0" x2="223" y2="323.0" stroke="#000" stroke-width="1.1"/>
<text x="220.70000000000002" y="325.15" font-size="7.9" font-weight="normal" text-anchor="end" fill="#000" stroke="#000" stroke-width="0.25">100</text>
<line x1="221.1" y1="409.67" x2="223" y2="409.67" stroke="#000" stroke-width="1.0"/>
<line x1="221.1" y1="390.41" x2="223" y2="390.41" stroke="#000" stroke-width="1.0"/>
<line x1="221.1" y1="371.15000000000003" x2="223" y2="371.15000000000003" stroke="#000" stroke-width="1.0"/>
<line x1="221.1" y1="351.89" x2="223" y2="351.89" stroke="#000" stroke-width="1.0"/>
<line x1="221.1" y1="332.63" x2="223" y2="332.63" stroke="#000" stroke-width="1.0"/>
<line x1="239.625" y1="407.7" x2="239.625" y2="410.25" stroke="#000" stroke-width="1.5"/>
<line x1="237.625" y1="408.0" x2="241.625" y2="408.0" stroke="#000" stroke-width="1.5"/>
<rect x="230.00" y="409.25" width="19.25" height="10.05" fill="#b9b9b9"/>
<line x1="259.0" y1="411.3" x2="259.0" y2="413.25" stroke="#000" stroke-width="1.5"/>
<line x1="257.0" y1="411.6" x2="261.0" y2="411.6" stroke="#000" stroke-width="1.5"/>
<rect x="249.25" y="412.25" width="19.50" height="7.05" fill="#000"/>
<line x1="292.25" y1="356.25" x2="292.25" y2="367.25" stroke="#000" stroke-width="1.5"/>
<line x1="290.25" y1="356.55" x2="294.25" y2="356.55" stroke="#000" stroke-width="1.5"/>
<rect x="282.50" y="366.25" width="19.50" height="53.05" fill="#b9b9b9"/>
<line x1="311.875" y1="371.75" x2="311.875" y2="379.75" stroke="#000" stroke-width="1.5"/>
<line x1="309.875" y1="372.05" x2="313.875" y2="372.05" stroke="#000" stroke-width="1.5"/>
<rect x="302.00" y="378.75" width="19.75" height="40.55" fill="#000"/>
<line x1="342.875" y1="359.5" x2="342.875" y2="366.5" stroke="#000" stroke-width="1.5"/>
<line x1="340.875" y1="359.8" x2="344.875" y2="359.8" stroke="#000" stroke-width="1.5"/>
<rect x="333.25" y="365.50" width="19.25" height="53.80" fill="#b9b9b9"/>
<line x1="362.125" y1="381.5" x2="362.125" y2="386.5" stroke="#000" stroke-width="1.5"/>
<line x1="360.125" y1="381.8" x2="364.125" y2="381.8" stroke="#000" stroke-width="1.5"/>
<rect x="352.50" y="385.50" width="19.25" height="33.80" fill="#000"/>
<text x="250.9" y="380.7" font-size="14.5" font-weight="normal" text-anchor="middle" fill="#000" stroke="#000" stroke-width="0.3">*</text>
<text x="360" y="349.2" font-size="14.5" font-weight="normal" text-anchor="middle" fill="#000" stroke="#000" stroke-width="0.3">*</text>
<text x="251.75" y="430.1" font-size="8" font-weight="bold" text-anchor="middle" fill="#000">No TGF-<tspan font-family="Liberation Serif, serif" font-weight="normal" font-size="1.12em" fill="#444">β</tspan></text>
<text x="300.6" y="429.5" font-size="8.3" font-weight="bold" text-anchor="middle" fill="#000">0.5 ng/ml</text>
<text x="351.25" y="429.5" font-size="8.2" font-weight="bold" text-anchor="middle" fill="#000">5 ng/ml</text>
<line x1="279" y1="433.7" x2="378" y2="433.7" stroke="#000" stroke-width="1.4"/>
<text x="325.3" y="443.6" font-size="8" font-weight="bold" text-anchor="middle" fill="#000">TGF-<tspan font-family="Liberation Serif, serif" font-weight="normal" font-size="1.12em" fill="#444">β</tspan></text>
<text x="203.2" y="372.65" font-size="8.2" font-weight="bold" text-anchor="middle" textLength="121.7" lengthAdjust="spacingAndGlyphs" transform="rotate(-90 203.2 372.65)">% of FOXP3<tspan dy="-3.8" font-size="7.6">+</tspan><tspan dy="3.8" font-size="1"> </tspan>among CD4<tspan dy="-3.8" font-size="7.6">+</tspan><tspan dy="3.8" font-size="7.5"> </tspan>cells</text>
<text x="379" y="321.8" font-size="12.2" font-weight="bold" text-anchor="start" fill="#000">G</text>
<line x1="425.5" y1="318.8" x2="425.5" y2="421.54999999999995" stroke="#000" stroke-width="1.8"/>
<line x1="424.6" y1="420.9" x2="515" y2="420.9" stroke="#000" stroke-width="1.3"/>
<line x1="423.1" y1="420.9" x2="425.5" y2="420.9" stroke="#000" stroke-width="1.1"/>
<text x="423.3" y="423.84999999999997" font-size="8.2" font-weight="normal" text-anchor="end" fill="#000" stroke="#000" stroke-width="0.25">0</text>
<line x1="423.1" y1="400.64" x2="425.5" y2="400.64" stroke="#000" stroke-width="1.1"/>
<text x="422.1" y="403.59" font-size="8.2" font-weight="normal" text-anchor="end" fill="#000" stroke="#000" stroke-width="0.25">20</text>
<line x1="423.1" y1="380.38" x2="425.5" y2="380.38" stroke="#000" stroke-width="1.1"/>
<text x="422.1" y="383.33" font-size="8.2" font-weight="normal" text-anchor="end" fill="#000" stroke="#000" stroke-width="0.25">40</text>
<line x1="423.1" y1="360.12" x2="425.5" y2="360.12" stroke="#000" stroke-width="1.1"/>
<text x="422.1" y="363.07" font-size="8.2" font-weight="normal" text-anchor="end" fill="#000" stroke="#000" stroke-width="0.25">60</text>
<line x1="423.1" y1="339.85999999999996" x2="425.5" y2="339.85999999999996" stroke="#000" stroke-width="1.1"/>
<text x="422.1" y="342.80999999999995" font-size="8.2" font-weight="normal" text-anchor="end" fill="#000" stroke="#000" stroke-width="0.25">80</text>
<line x1="423.1" y1="319.59999999999997" x2="425.5" y2="319.59999999999997" stroke="#000" stroke-width="1.1"/>
<text x="422.1" y="322.54999999999995" font-size="8.2" font-weight="normal" text-anchor="end" fill="#000" stroke="#000" stroke-width="0.25">100</text>
<line x1="423.6" y1="410.77" x2="425.5" y2="410.77" stroke="#000" stroke-width="1.0"/>
<line x1="423.6" y1="390.51" x2="425.5" y2="390.51" stroke="#000" stroke-width="1.0"/>
<line x1="423.6" y1="370.25" x2="425.5" y2="370.25" stroke="#000" stroke-width="1.0"/>
<line x1="423.6" y1="349.99" x2="425.5" y2="349.99" stroke="#000" stroke-width="1.0"/>
<line x1="423.6" y1="329.72999999999996" x2="425.5" y2="329.72999999999996" stroke="#000" stroke-width="1.0"/>
<line x1="438.375" y1="354.25" x2="438.375" y2="364" stroke="#000" stroke-width="1.5"/>
<line x1="436.375" y1="354.55" x2="440.375" y2="354.55" stroke="#000" stroke-width="1.5"/>
<rect x="428.75" y="363.00" width="19.25" height="57.50" fill="#b9b9b9"/>
<line x1="457.125" y1="365.5" x2="457.125" y2="375.25" stroke="#000" stroke-width="1.5"/>
<line x1="455.125" y1="365.8" x2="459.125" y2="365.8" stroke="#000" stroke-width="1.5"/>
<rect x="448.00" y="374.25" width="18.25" height="46.25" fill="#000"/>
<line x1="487.5" y1="327.4" x2="487.5" y2="333.3" stroke="#000" stroke-width="1.5"/>
<line x1="485.5" y1="327.7" x2="489.5" y2="327.7" stroke="#000" stroke-width="1.5"/>
<rect x="478.75" y="332.30" width="17.50" height="88.20" fill="#b9b9b9"/>
<line x1="505.625" y1="330.3" x2="505.625" y2="335.6" stroke="#000" stroke-width="1.5"/>
<line x1="503.625" y1="330.6" x2="507.625" y2="330.6" stroke="#000" stroke-width="1.5"/>
<rect x="496.25" y="334.60" width="18.75" height="85.90" fill="#000"/>
<text x="450" y="344.7" font-size="14.5" font-weight="normal" text-anchor="middle" fill="#000" stroke="#000" stroke-width="0.3">*</text>
<text x="447.5" y="430.8" font-size="8" font-weight="bold" text-anchor="middle" fill="#000">FOXP3</text>
<text x="496.25" y="430.8" font-size="8" font-weight="bold" text-anchor="middle" fill="#000">ROR<tspan font-family="Liberation Serif, serif" font-weight="normal" fill="#333">γ</tspan>t</text>
<line x1="430.5" y1="434.3" x2="465.75" y2="434.3" stroke="#000" stroke-width="1.4"/>
<line x1="477" y1="434.3" x2="514.25" y2="434.3" stroke="#000" stroke-width="1.4"/>
<text x="445.6" y="444.3" font-size="8" font-weight="bold" text-anchor="middle" fill="#000">TReg</text>
<text x="495" y="444.5" font-size="8" font-weight="bold" text-anchor="middle" fill="#000">Th17</text>
<text x="447.6" y="454.3" font-size="7.5" font-weight="bold" text-anchor="middle" fill="#000">conditions</text>
<text x="495.5" y="454.3" font-size="7.5" font-weight="bold" text-anchor="middle" fill="#000">conditions</text>
<text x="397.3" y="371.05" font-size="8.2" font-weight="bold" text-anchor="middle" textLength="106.1" lengthAdjust="spacingAndGlyphs" transform="rotate(-90 397.3 371.05)">% of CD4<tspan dy="-3.8" font-size="7.6">+</tspan><tspan dy="3.8" font-size="7.5"> </tspan>cells expressing</text>
<text x="406.9" y="371.95" font-size="8.0" font-weight="bold" text-anchor="middle" textLength="73.7" lengthAdjust="spacingAndGlyphs" transform="rotate(-90 406.9 371.95)">transcription factor</text>
</svg>
</body></html>
